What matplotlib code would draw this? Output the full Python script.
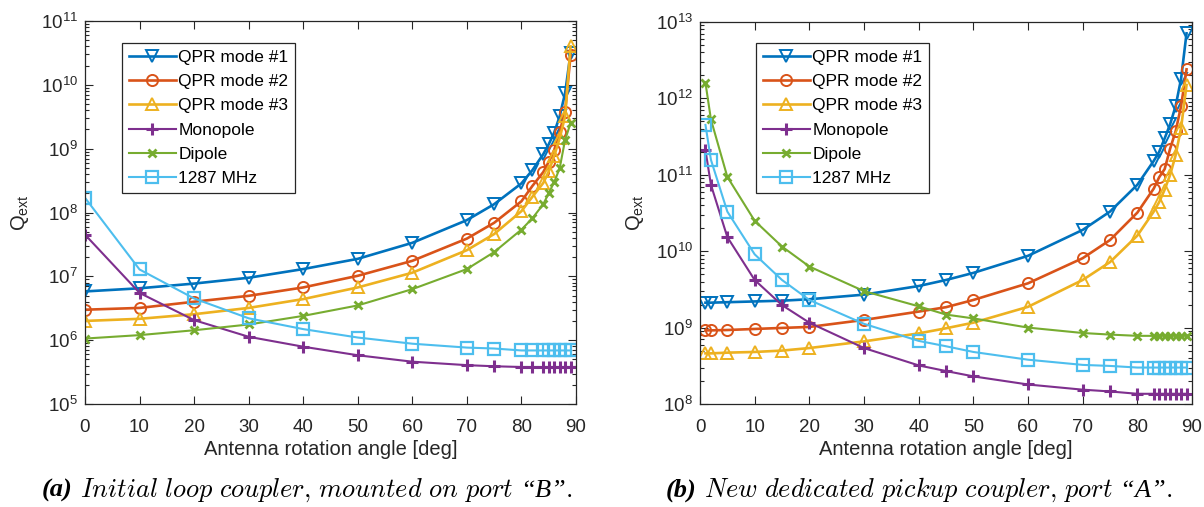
import matplotlib
matplotlib.use("Agg")
import matplotlib.pyplot as plt
import numpy as np
from matplotlib.ticker import LogLocator, NullFormatter, FixedLocator

plt.rcParams['font.family'] = ['Liberation Sans', 'DejaVu Sans']
plt.rcParams['mathtext.fontset'] = 'custom'
plt.rcParams['mathtext.rm'] = 'Liberation Sans'
plt.rcParams['mathtext.it'] = 'Liberation Sans:italic'

# ---------------- data: (a) initial loop coupler, port B ----------------
ang_a = [0, 10, 20, 30, 40, 50, 60, 70, 75, 80, 82, 84, 85, 86, 87, 88, 89]
qpr1_a = [5.8e6, 6.5e6, 7.7e6, 9.5e6, 1.3e7, 1.88e7, 3.35e7, 7.6e7, 1.35e8, 2.86e8,
          4.6e8, 8.2e8, 1.17e9, 1.78e9, 3.2e9, 7.4e9, 3.1e10]
qpr2_a = [3.0e6, 3.2e6, 4.0e6, 4.95e6, 6.7e6, 1.02e7, 1.75e7, 3.9e7, 6.9e7, 1.5e8,
          2.6e8, 4.3e8, 6.2e8, 9.5e8, 1.84e9, 3.8e9, 2.9e10]
qpr3_a = [2.0e6, 2.16e6, 2.55e6, 3.2e6, 4.4e6, 6.7e6, 1.14e7, 2.57e7, 4.6e7, 1.05e8,
          1.76e8, 2.9e8, 4.4e8, 7.7e8, 1.45e9, 3.2e9, 4.0e10]
mono_a = [4.5e7, 5.5e6, 2.06e6, 1.13e6, 7.9e5, 5.8e5, 4.6e5, 4.06e5, 3.9e5, 3.8e5,
          3.8e5, 3.8e5, 3.8e5, 3.8e5, 3.8e5, 3.8e5, 3.8e5]
dip_a = [1.06e6, 1.2e6, 1.43e6, 1.76e6, 2.4e6, 3.5e6, 6.3e6, 1.3e7, 2.4e7, 5.4e7,
         8.1e7, 1.35e8, 2.0e8, 3.0e8, 4.9e8, 1.37e9, 2.5e9]
f1287_a = [1.7e8, 1.28e7, 4.5e6, 2.2e6, 1.49e6, 1.1e6, 8.8e5, 7.65e5, 7.4e5, 6.9e5,
           6.9e5, 6.9e5, 6.9e5, 6.9e5, 6.9e5, 6.9e5, 6.9e5]

# ---------------- data: (b) new dedicated pickup coupler, port A ----------------
ang_b = [1, 2, 5, 10, 15, 20, 30, 40, 45, 50, 60, 70, 75, 80, 83, 84, 85, 86, 87, 88, 89]
qpr1_b = [2.12e9, 2.12e9, 2.15e9, 2.2e9, 2.25e9, 2.35e9, 2.7e9, 3.5e9, 4.2e9, 5.2e9,
          8.7e9, 1.9e10, 3.3e10, 7.4e10, 1.52e11, 2.0e11, 3.0e11, 4.6e11, 7.9e11,
          1.8e12, 7.1e12]
qpr2_b = [9.2e8, 9.2e8, 9.3e8, 9.6e8, 9.9e8, 1.02e9, 1.26e9, 1.62e9, 1.85e9, 2.3e9,
          3.8e9, 8.1e9, 1.4e10, 3.2e10, 6.6e10, 9.3e10, 1.19e11, 2.2e11, 3.7e11,
          7.9e11, 2.4e12]
qpr3_b = [4.6e8, 4.6e8, 4.7e8, 4.8e8, 5.0e8, 5.4e8, 6.6e8, 8.4e8, 9.8e8, 1.16e9,
          1.87e9, 4.2e9, 7.2e9, 1.6e10, 3.3e10, 4.4e10, 6.4e10, 1.0e11, 1.8e11,
          4.1e11, 1.5e12]
mono_b = [2.1e11, 7.4e10, 1.53e10, 4.2e9, 1.97e9, 1.16e9, 5.4e8, 3.2e8, 2.7e8, 2.3e8,
          1.8e8, 1.54e8, 1.46e8, 1.36e8, 1.36e8, 1.36e8, 1.36e8, 1.36e8, 1.36e8,
          1.36e8, 1.36e8]
dip_b = [1.6e12, 5.3e11, 9.4e10, 2.5e10, 1.15e10, 6.3e9, 3.0e9, 1.9e9, 1.48e9, 1.32e9,
         1.0e9, 8.5e8, 8.1e8, 7.8e8, 7.8e8, 7.8e8, 7.8e8, 7.8e8, 7.8e8, 7.8e8, 7.8e8]
f1287_b = [4.5e11, 1.57e11, 3.3e10, 9.1e9, 4.2e9, 2.3e9, 1.12e9, 6.7e8, 5.7e8, 4.8e8,
           3.8e8, 3.25e8, 3.15e8, 3.0e8, 3.0e8, 3.0e8, 3.0e8, 3.0e8, 3.0e8, 3.0e8, 3.0e8]

labels = ['QPR mode #1', 'QPR mode #2', 'QPR mode #3', 'Monopole', 'Dipole', '1287 MHz']
x_ticks = [0, 10, 20, 30, 40, 50, 60, 70, 80, 90]
xlabel = 'Antenna rotation angle [deg]'
ylabel = r'Q$_\mathregular{ext}$'
caption_a = ('(a)', r'$\mathit{Initial\ loop\ coupler{,}\ mounted\ on\ port\ }$'
                    '\u201cB\u201d' r'$\mathit{.}$')
caption_b = ('(b)', r'$\mathit{New\ dedicated\ pickup\ coupler{,}\ port\ }$'
                    '\u201cA\u201d' r'$\mathit{.}$')

colors = ['#0072BD', '#D95319', '#EDB120', '#7E2F8E', '#77AC30', '#4DBEEE']
styles = [
    dict(marker='v', ms=8, mew=1.4, mfc='none', lw=1.9),
    dict(marker='o', ms=8, mew=1.4, mfc='none', lw=1.9),
    dict(marker='^', ms=8, mew=1.4, mfc='none', lw=1.9),
    dict(marker='+', ms=9, mew=2.2, lw=1.5),
    dict(marker='x', ms=6, mew=2.0, lw=1.5),
    dict(marker='s', ms=8, mew=1.6, mfc='none', lw=1.5),
]

W, H = 1204, 507
fig = plt.figure(figsize=(W / 100, H / 100), dpi=100)
ax_a = fig.add_axes([85 / W, 1 - 404 / H, 491 / W, 383 / H])
ax_b = fig.add_axes([700 / W, 1 - 404 / H, 492 / W, 382 / H])

edge = '#262626'


def draw(ax, ang, series, ylim, leg_anchor):
    for s, c, st, lab in zip(series, colors, styles, labels):
        ax.plot(ang, s, color=c, label=lab, **st)
    ax.set_yscale('log')
    ax.set_xlim(0, 90)
    ax.set_ylim(*ylim)
    ax.xaxis.set_major_locator(FixedLocator(x_ticks))
    ax.yaxis.set_major_locator(LogLocator(base=10, numticks=20))
    ax.yaxis.set_minor_locator(LogLocator(base=10, subs=np.arange(2, 10), numticks=20))
    ax.yaxis.set_minor_formatter(NullFormatter())
    ax.tick_params(which='both', direction='in', top=True, right=True,
                   colors=edge, labelcolor='#262626', labelsize=13.5, width=0.8)
    ax.tick_params(which='major', length=6)
    ax.tick_params(which='minor', length=3)
    ax.tick_params(axis='x', which='major', pad=11)
    ax.tick_params(axis='y', which='major', pad=5)
    for sp in ax.spines.values():
        sp.set_color(edge)
        sp.set_linewidth(0.9)
    ax.set_xlabel(xlabel, fontsize=14.5, color='#262626', labelpad=3)
    ax.set_ylabel(ylabel, fontsize=14.5, color='#262626', labelpad=7)
    leg = ax.legend(loc='upper left', bbox_to_anchor=leg_anchor, fontsize=12.5,
                    frameon=True, fancybox=False, edgecolor=edge, framealpha=1,
                    handlelength=2.7, handletextpad=0.15, labelspacing=0.52,
                    borderpad=0.4, borderaxespad=0)
    leg.get_frame().set_linewidth(0.9)


draw(ax_a, ang_a, [qpr1_a, qpr2_a, qpr3_a, mono_a, dip_a, f1287_a], (1e5, 1e11),
     (37 / 491, 1 - 22 / 383))
draw(ax_b, ang_b, [qpr1_b, qpr2_b, qpr3_b, mono_b, dip_b, f1287_b], (1e8, 1e13),
     (56 / 492, 1 - 21 / 382))


def caption(xc, y, parts):
    lab, body = parts
    t1 = fig.text(0, y, lab, family='Liberation Serif', style='italic', weight='bold',
                  fontsize=19, va='baseline')
    t2 = fig.text(0, y, body, family='Liberation Serif', style='italic',
                  fontsize=19, va='baseline', math_fontfamily='cm')
    fig.canvas.draw()
    r = fig.canvas.get_renderer()
    w1 = t1.get_window_extent(r).width
    w2 = t2.get_window_extent(r).width
    gap = 8
    start = xc * W - (w1 + gap + w2) / 2
    t1.set_x(start / W)
    t2.set_x((start + w1 + gap) / W)


caption(307 / W, 1 - 497 / H, caption_a)
caption(919 / W, 1 - 497 / H, caption_b)

fig.savefig('out.png', dpi=100, facecolor='white')
